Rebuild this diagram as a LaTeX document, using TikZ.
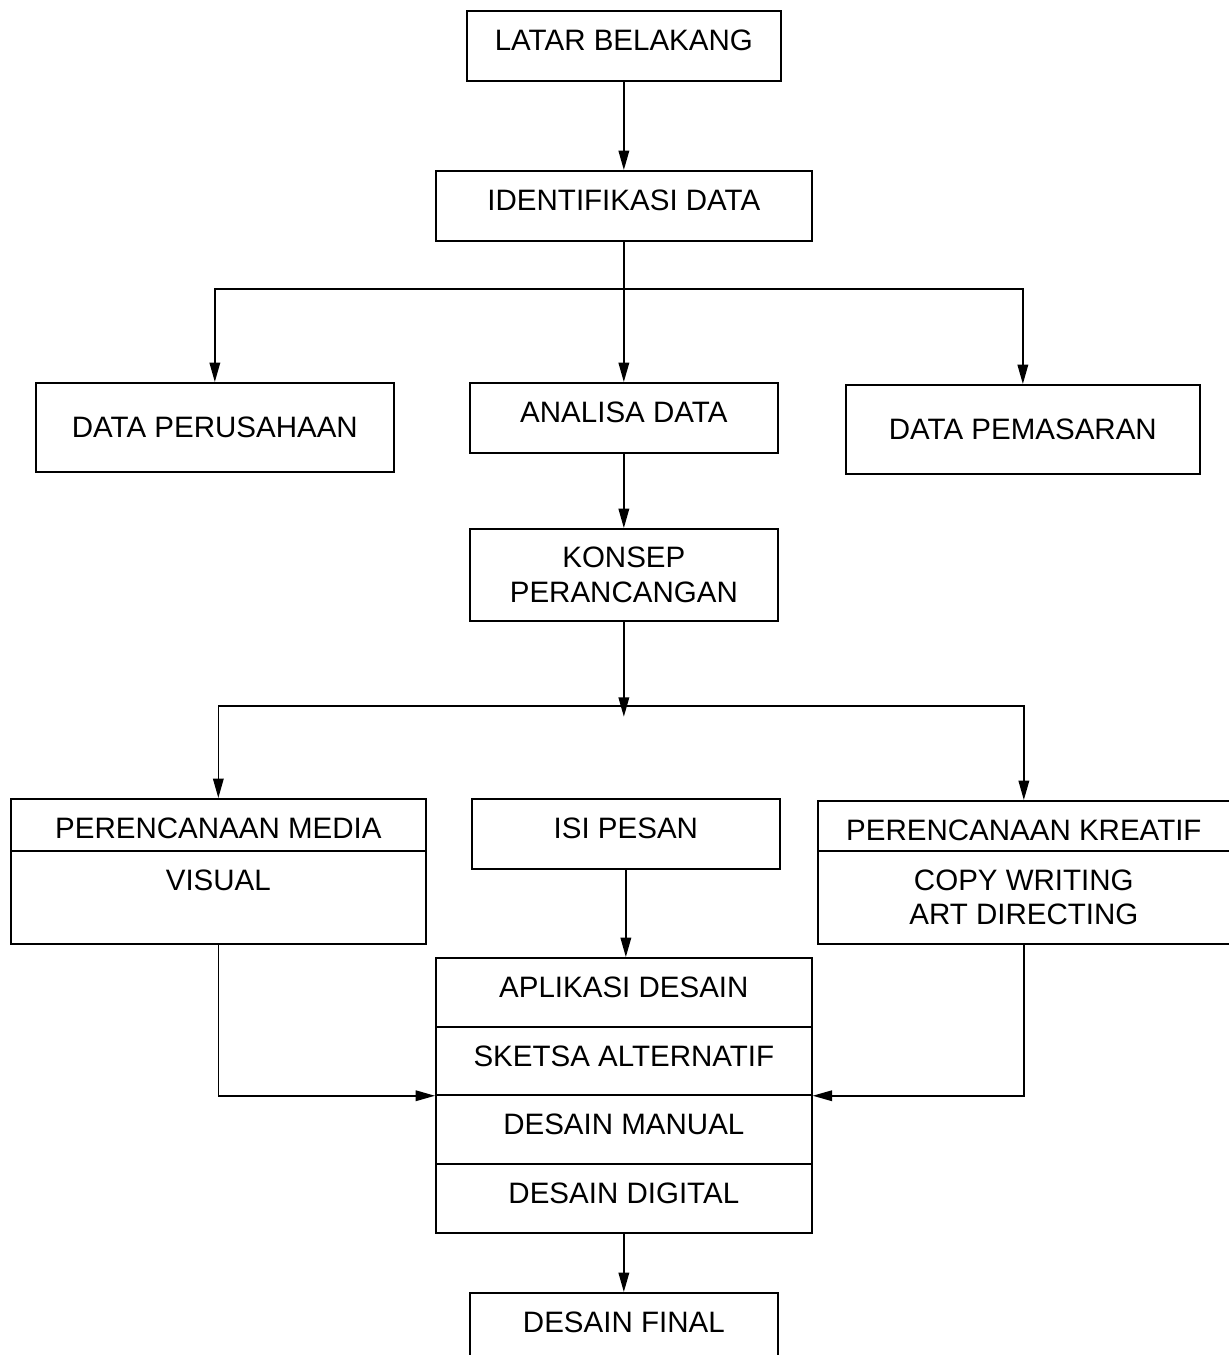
\documentclass[tikz,border=0pt]{standalone}
\usepackage{fontspec}
\setmainfont{Liberation Sans}
\usetikzlibrary{arrows.meta}

\begin{document}
\begin{tikzpicture}[x=0.02cm, y=-0.02cm]
  \tikzset{box/.style={draw, line width=1pt, inner sep=0pt, anchor=north west, align=center, font=\fontsize{16.8}{19.5}\selectfont},
           toptext/.style={text height=0.8cm, text depth=#1},
           arr/.style={line width=0.9pt, -{Triangle[length=11pt, width=6pt]}},
           ln/.style={line width=0.9pt}}
  \useasboundingbox (0,0) rectangle (1229,1355);

  \node[box, minimum width=6.28cm, toptext=0.6cm] (latar) at (466,10) {LATAR BELAKANG};
  \node[box, minimum width=7.52cm, toptext=0.6cm] (ident) at (435,170) {IDENTIFIKASI DATA};

  \node[box, minimum width=7.16cm, minimum height=1.78cm] (perus) at (35,382) {DATA PERUSAHAAN};
  \node[box, minimum width=6.16cm, toptext=0.6cm] (analisa) at (469,382) {ANALISA DATA};
  \node[box, minimum width=7.08cm, minimum height=1.78cm] (pemasaran) at (845,384) {DATA PEMASARAN};

  \node[box, minimum width=6.16cm, minimum height=1.84cm] (konsep) at (469,528) {KONSEP\\PERANCANGAN};

  \node[box, minimum width=8.3cm, toptext=0.24cm] (mediah) at (10,798) {PERENCANAAN MEDIA};
  \node[box, minimum width=8.3cm, toptext=1.06cm] (mediab) at (10,850) {VISUAL};
  \node[box, minimum width=6.16cm, toptext=0.6cm] (isi) at (471,798) {ISI PESAN};
  \node[box, minimum width=8.24cm, toptext=0.2cm] (kreatifh) at (817,800) {PERENCANAAN KREATIF};
  \node[box, minimum width=8.24cm, minimum height=1.86cm] (kreatifb) at (817,850) {COPY WRITING\\ART DIRECTING};

  \node[box, minimum width=7.52cm, toptext=0.58cm] (aplikasi) at (435,957) {APLIKASI DESAIN};
  \node[box, minimum width=7.52cm, toptext=0.56cm] (sketsa) at (435,1026) {SKETSA ALTERNATIF};
  \node[box, minimum width=7.52cm, toptext=0.58cm] (manual) at (435,1094) {DESAIN MANUAL};
  \node[box, minimum width=7.52cm, toptext=0.58cm] (digital) at (435,1163) {DESAIN DIGITAL};
  \node[box, minimum width=6.16cm, toptext=0.8cm] (final) at (469,1292) {DESAIN FINAL};

  \draw[arr] (latar.south) -- (latar.south |- ident.north);
  \draw[ln] (ident.south) -- ++(0,47) coordinate (split1);
  \draw[arr] (split1) -| (perus.north);
  \draw[arr] (split1) -- (split1 |- analisa.north);
  \draw[arr] (split1) -| (pemasaran.north);
  \draw[arr] (analisa.south) -- (analisa.south |- konsep.north);
  \draw[arr] (konsep.south) -- ++(0,95) coordinate (tip2);
  \coordinate (split2) at ([yshift=0.22cm]tip2);
  \draw[arr] (split2) -| (mediah.north);
  \draw[arr] (split2) -| (kreatifh.north);
  \draw[arr] (isi.south) -- (isi.south |- aplikasi.north);
  \draw[arr] (mediab.south) |- (sketsa.south west);
  \draw[arr] (kreatifb.south) |- (sketsa.south east);
  \draw[arr] (digital.south) -- (digital.south |- final.north);
\end{tikzpicture}
\end{document}
